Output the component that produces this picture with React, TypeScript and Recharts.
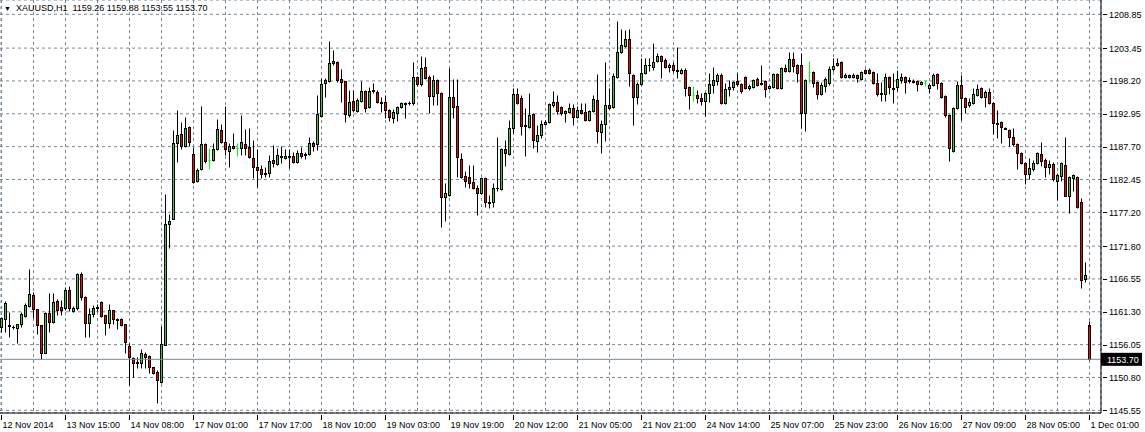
import { ComposedChart, Bar, XAxis, YAxis, CartesianGrid, ReferenceLine } from 'recharts'

// XAUUSD H1 candles, [open, high, low, close], one array per x-axis label span
const from12Nov2014 = [
  [1158.82, 1160.42, 1158.02, 1160.26], [1160.10, 1162.98, 1158.02, 1162.66], [1159.14, 1161.22, 1157.22, 1158.98], [1158.86, 1159.14, 1158.50, 1158.80],
  [1158.66, 1159.30, 1156.26, 1159.30], [1159.30, 1161.22, 1158.82, 1160.90], [1160.58, 1162.66, 1160.42, 1162.34], [1162.18, 1168.10, 1162.02, 1164.10],
  [1163.94, 1164.42, 1160.26, 1161.70], [1161.70, 1161.70, 1157.70, 1159.14], [1159.14, 1159.14, 1153.70, 1154.66], [1154.66, 1161.22, 1154.66, 1161.06],
  [1161.06, 1164.26, 1158.02, 1159.62], [1159.62, 1164.26, 1159.46, 1162.82], [1162.98, 1163.30, 1160.74, 1161.54], [1162.02, 1163.14, 1160.74, 1161.54],
]
const from13Nov1500 = [
  [1161.86, 1165.22, 1161.54, 1164.74], [1164.74, 1165.38, 1161.38, 1161.86], [1161.38, 1162.18, 1161.22, 1161.86], [1161.86, 1167.46, 1161.54, 1167.30],
  [1167.30, 1167.62, 1163.14, 1163.62], [1163.62, 1163.78, 1157.22, 1159.46], [1159.46, 1161.86, 1157.22, 1160.90], [1160.90, 1162.34, 1160.42, 1161.86],
  [1162.02, 1162.50, 1161.38, 1161.94], [1162.82, 1162.98, 1160.42, 1160.58], [1160.74, 1160.74, 1157.54, 1159.46], [1159.46, 1162.50, 1158.66, 1161.54],
  [1161.54, 1161.54, 1159.30, 1160.10], [1160.10, 1160.26, 1158.50, 1160.02], [1160.10, 1160.26, 1158.98, 1159.14], [1159.30, 1159.30, 1154.66, 1156.42],
]
const from14Nov0800 = [
  [1155.78, 1156.26, 1149.54, 1154.02], [1153.86, 1154.02, 1150.82, 1153.06], [1153.22, 1154.02, 1152.26, 1153.14], [1153.06, 1155.30, 1152.26, 1154.66],
  [1154.50, 1154.82, 1152.26, 1154.02], [1154.18, 1154.34, 1151.46, 1152.42], [1152.42, 1152.42, 1151.30, 1151.46], [1151.62, 1151.94, 1146.66, 1150.34],
  [1150.02, 1158.98, 1149.86, 1156.10], [1155.94, 1180.10, 1155.94, 1175.30], [1175.30, 1176.90, 1171.46, 1175.78], [1176.10, 1190.34, 1176.10, 1188.26],
  [1188.26, 1193.54, 1185.22, 1189.54], [1189.70, 1191.62, 1187.30, 1187.78], [1187.78, 1192.42, 1187.62, 1190.66], [1190.82, 1190.98, 1187.78, 1188.42],
]
const from17Nov0100 = [
  [1186.50, 1187.62, 1181.86, 1182.02], [1182.18, 1184.26, 1182.02, 1183.94], [1184.10, 1194.18, 1183.94, 1188.10], [1188.10, 1188.26, 1185.06, 1185.38],
  [1185.54, 1187.46, 1184.10, 1185.54], [1185.54, 1188.26, 1185.38, 1187.30], [1187.30, 1192.10, 1187.14, 1190.50], [1190.34, 1191.30, 1188.26, 1188.42],
  [1188.42, 1194.18, 1186.34, 1187.30], [1186.98, 1188.26, 1184.42, 1187.78], [1187.78, 1189.86, 1187.30, 1187.46], [1187.46, 1188.26, 1186.18, 1187.46],
  [1187.46, 1192.74, 1186.34, 1188.42], [1188.10, 1190.50, 1186.34, 1187.46], [1187.62, 1190.66, 1185.86, 1186.02], [1185.86, 1188.74, 1182.66, 1184.42],
]
const from17Nov1700 = [
  [1184.42, 1187.30, 1181.22, 1183.94], [1184.10, 1184.74, 1182.66, 1183.30], [1183.30, 1184.42, 1182.82, 1183.46], [1183.46, 1186.34, 1182.82, 1185.38],
  [1185.54, 1187.94, 1184.42, 1185.06], [1184.90, 1187.46, 1184.74, 1186.34], [1186.18, 1187.78, 1185.06, 1186.10], [1185.86, 1187.30, 1185.70, 1186.18],
  [1186.18, 1187.30, 1184.26, 1186.10], [1186.18, 1186.82, 1185.06, 1185.22], [1185.22, 1187.14, 1185.06, 1186.66], [1186.66, 1187.62, 1185.86, 1186.18],
  [1186.50, 1186.82, 1185.70, 1186.42], [1186.50, 1189.22, 1186.34, 1188.26], [1188.26, 1188.58, 1186.98, 1187.78], [1188.10, 1195.94, 1187.14, 1192.90],
]
const from18Nov1000 = [
  [1192.58, 1198.66, 1192.42, 1197.70], [1197.86, 1198.66, 1195.62, 1198.34], [1198.18, 1204.58, 1198.02, 1201.06], [1201.06, 1203.14, 1200.74, 1201.38],
  [1201.22, 1201.38, 1198.02, 1198.34], [1198.50, 1200.10, 1194.82, 1198.02], [1198.18, 1198.18, 1191.62, 1192.90], [1192.74, 1196.74, 1192.42, 1194.82],
  [1194.98, 1196.74, 1193.22, 1193.54], [1193.38, 1195.46, 1193.22, 1195.14], [1194.98, 1198.18, 1194.82, 1196.58], [1196.58, 1196.74, 1193.22, 1193.86],
  [1194.02, 1197.22, 1193.86, 1196.58], [1196.74, 1197.86, 1196.26, 1196.66], [1196.42, 1196.74, 1194.66, 1194.82], [1194.82, 1195.62, 1193.22, 1194.74],
]
const from19Nov0300 = [
  [1194.82, 1195.94, 1192.26, 1193.54], [1193.54, 1193.70, 1191.78, 1192.42], [1192.26, 1193.70, 1191.46, 1193.22], [1193.06, 1194.18, 1191.78, 1194.02],
  [1194.02, 1194.82, 1193.86, 1194.66], [1194.66, 1194.82, 1192.26, 1194.58], [1194.66, 1194.98, 1194.34, 1194.74], [1194.66, 1201.22, 1194.34, 1198.82],
  [1198.82, 1198.98, 1197.38, 1197.70], [1197.70, 1202.18, 1197.38, 1200.26], [1200.42, 1202.02, 1198.50, 1198.66], [1198.82, 1199.14, 1193.06, 1195.78],
  [1195.78, 1199.14, 1194.34, 1198.34], [1198.34, 1198.50, 1194.34, 1196.26], [1196.26, 1196.42, 1174.82, 1179.62], [1179.62, 1181.86, 1175.78, 1180.26],
]
const from19Nov1900 = [
  [1179.94, 1200.26, 1179.78, 1195.62], [1195.62, 1198.50, 1192.26, 1194.02], [1194.18, 1198.50, 1182.82, 1186.02], [1185.70, 1186.66, 1182.66, 1182.82],
  [1182.98, 1183.78, 1181.22, 1182.18], [1182.82, 1184.74, 1181.06, 1181.86], [1182.02, 1184.74, 1180.90, 1181.06], [1181.06, 1181.54, 1176.74, 1180.26],
  [1180.26, 1182.82, 1180.10, 1182.66], [1182.66, 1182.82, 1178.02, 1178.82], [1178.82, 1179.94, 1177.86, 1178.74], [1178.82, 1181.86, 1178.02, 1181.06],
  [1181.06, 1189.22, 1180.58, 1181.14], [1180.90, 1187.46, 1180.74, 1187.30], [1187.30, 1188.74, 1184.58, 1186.66], [1186.50, 1191.94, 1186.34, 1190.66],
]
const from20Nov1200 = [
  [1190.66, 1197.06, 1189.86, 1196.10], [1196.10, 1197.06, 1194.50, 1194.66], [1195.46, 1195.94, 1189.54, 1190.98], [1191.14, 1193.86, 1186.18, 1191.06],
  [1190.82, 1196.26, 1190.66, 1192.74], [1192.90, 1193.06, 1187.46, 1188.74], [1188.58, 1191.14, 1186.82, 1189.54], [1189.54, 1191.94, 1189.06, 1191.30],
  [1191.30, 1191.94, 1191.14, 1191.62], [1191.62, 1194.66, 1191.46, 1194.50], [1194.34, 1196.58, 1194.02, 1194.82], [1194.82, 1195.94, 1192.90, 1193.38],
  [1194.02, 1194.18, 1192.74, 1193.06], [1193.06, 1193.54, 1191.62, 1193.38], [1193.22, 1194.66, 1193.06, 1193.86], [1193.86, 1194.50, 1191.14, 1192.42],
]
const from21Nov0500 = [
  [1192.42, 1194.18, 1192.26, 1193.54], [1193.54, 1194.66, 1192.90, 1193.06], [1193.22, 1194.66, 1191.78, 1191.94], [1191.94, 1193.54, 1191.78, 1193.38],
  [1193.38, 1195.94, 1193.22, 1195.30], [1195.14, 1199.30, 1188.26, 1190.18], [1190.02, 1191.94, 1186.66, 1191.30], [1191.30, 1201.22, 1188.58, 1194.34],
  [1194.34, 1197.06, 1193.70, 1193.86], [1194.02, 1199.46, 1193.86, 1198.98], [1198.82, 1207.78, 1198.66, 1202.82], [1202.82, 1206.50, 1202.66, 1203.94],
  [1203.78, 1206.34, 1203.62, 1204.90], [1204.90, 1206.50, 1197.38, 1199.46], [1199.14, 1199.30, 1191.14, 1195.62], [1195.62, 1198.02, 1194.50, 1197.70],
]
const from21Nov2100 = [
  [1197.70, 1201.86, 1197.54, 1199.46], [1199.46, 1201.86, 1199.30, 1200.74], [1200.74, 1201.86, 1199.78, 1200.82], [1200.42, 1204.26, 1199.94, 1201.22],
  [1201.38, 1202.66, 1201.22, 1202.18], [1202.18, 1202.34, 1198.66, 1201.38], [1201.54, 1201.86, 1200.26, 1200.42], [1200.42, 1201.06, 1199.62, 1200.74],
  [1200.74, 1201.22, 1199.62, 1199.94], [1199.94, 1203.62, 1198.66, 1199.86], [1199.46, 1200.26, 1199.30, 1199.94], [1199.94, 1200.26, 1195.78, 1197.06],
  [1197.22, 1197.38, 1193.70, 1195.94], [1195.94, 1197.38, 1194.98, 1195.94], [1195.94, 1196.74, 1194.66, 1195.46], [1195.46, 1196.26, 1194.34, 1194.98],
]
const from24Nov1400 = [
  [1194.98, 1196.42, 1192.58, 1196.26], [1196.26, 1199.46, 1194.82, 1197.70], [1197.54, 1200.42, 1196.26, 1198.34], [1198.18, 1199.46, 1197.54, 1199.14],
  [1199.14, 1199.46, 1194.50, 1194.66], [1194.66, 1197.86, 1194.50, 1196.90], [1196.90, 1198.34, 1195.78, 1197.22], [1197.22, 1198.18, 1196.74, 1198.02],
  [1198.18, 1199.46, 1197.38, 1197.70], [1197.70, 1197.86, 1196.26, 1196.58], [1198.82, 1198.98, 1196.90, 1197.06], [1197.06, 1197.70, 1196.74, 1197.38],
  [1197.22, 1198.50, 1197.06, 1198.34], [1198.50, 1198.82, 1197.38, 1197.54], [1197.86, 1200.74, 1197.54, 1197.78], [1198.18, 1198.34, 1195.62, 1196.90],
]
const from25Nov0700 = [
  [1197.06, 1197.54, 1196.90, 1197.38], [1197.22, 1199.46, 1197.06, 1199.30], [1199.30, 1199.46, 1196.90, 1197.06], [1197.06, 1200.42, 1196.90, 1200.26],
  [1200.26, 1200.90, 1199.62, 1199.78], [1199.78, 1202.82, 1199.62, 1201.70], [1201.70, 1202.82, 1199.62, 1200.58], [1200.74, 1200.90, 1198.02, 1199.46],
  [1200.74, 1202.66, 1190.66, 1193.06], [1193.06, 1198.50, 1190.18, 1198.34], [1199.62, 1201.38, 1197.86, 1199.62], [1199.62, 1199.78, 1197.22, 1197.86],
  [1198.02, 1198.18, 1195.30, 1196.10], [1196.10, 1198.02, 1195.94, 1197.54], [1197.38, 1198.82, 1196.42, 1198.50], [1197.86, 1200.58, 1197.54, 1200.10],
]
const from25Nov2300 = [
  [1200.10, 1201.86, 1199.78, 1200.58], [1201.06, 1201.86, 1200.58, 1200.74], [1201.22, 1201.38, 1198.66, 1198.82], [1198.82, 1199.46, 1198.66, 1199.14],
  [1199.14, 1199.30, 1198.66, 1198.82], [1198.82, 1199.46, 1198.66, 1199.14], [1199.14, 1199.30, 1198.02, 1198.66], [1198.50, 1199.78, 1198.34, 1199.62],
  [1199.94, 1200.10, 1199.30, 1199.46], [1199.94, 1200.26, 1199.30, 1199.46], [1199.62, 1199.78, 1197.70, 1197.86], [1197.86, 1199.46, 1195.78, 1196.10],
  [1196.26, 1198.02, 1194.98, 1196.18], [1196.10, 1199.46, 1194.98, 1198.82], [1198.82, 1198.98, 1196.10, 1197.22], [1197.06, 1199.46, 1194.66, 1196.98],
]
const from26Nov1600 = [
  [1197.22, 1199.94, 1196.58, 1198.50], [1198.34, 1199.46, 1197.86, 1198.82], [1198.82, 1198.98, 1196.26, 1198.02], [1198.34, 1198.82, 1197.86, 1198.26],
  [1198.18, 1198.50, 1197.86, 1198.10], [1198.18, 1198.34, 1196.58, 1197.70], [1197.70, 1198.18, 1197.54, 1198.02], [1197.86, 1198.34, 1197.38, 1197.86],
  [1197.06, 1197.86, 1196.26, 1197.54], [1197.54, 1199.46, 1197.38, 1199.14], [1199.30, 1199.46, 1196.90, 1197.86], [1197.86, 1198.02, 1195.46, 1195.62],
  [1195.78, 1195.94, 1192.42, 1192.74], [1192.74, 1192.90, 1185.38, 1187.46], [1186.98, 1194.02, 1186.82, 1193.86], [1193.86, 1198.18, 1193.70, 1197.54],
]
const from27Nov0900 = [
  [1197.54, 1199.14, 1191.94, 1195.46], [1195.46, 1195.62, 1193.06, 1194.02], [1194.34, 1195.46, 1194.02, 1194.82], [1194.66, 1197.06, 1194.50, 1196.10],
  [1195.94, 1197.70, 1195.78, 1196.90], [1197.06, 1197.22, 1195.46, 1195.62], [1195.62, 1196.74, 1194.02, 1196.42], [1196.42, 1197.06, 1194.50, 1194.66],
  [1194.66, 1194.82, 1189.70, 1191.46], [1191.46, 1193.54, 1189.06, 1191.38], [1191.62, 1191.78, 1188.26, 1190.82], [1190.66, 1190.82, 1190.50, 1190.58],
  [1190.34, 1190.50, 1187.78, 1189.22], [1189.22, 1190.66, 1187.78, 1188.10], [1188.10, 1188.26, 1184.10, 1186.66], [1186.66, 1186.82, 1184.90, 1185.06],
]
const from28Nov0500 = [
  [1185.06, 1185.22, 1181.70, 1183.30], [1183.30, 1185.86, 1182.50, 1184.26], [1184.10, 1185.54, 1183.78, 1185.06], [1185.06, 1186.82, 1184.90, 1186.66],
  [1186.50, 1188.42, 1184.58, 1185.38], [1185.54, 1185.86, 1182.82, 1184.42], [1184.42, 1185.54, 1183.30, 1184.90], [1184.90, 1185.22, 1182.18, 1182.50],
  [1182.18, 1183.46, 1179.14, 1183.14], [1182.98, 1185.22, 1182.18, 1185.06], [1184.74, 1189.22, 1179.78, 1179.78], [1179.78, 1182.98, 1177.06, 1182.82],
  [1182.66, 1183.30, 1180.58, 1183.14], [1182.82, 1182.98, 1177.86, 1178.02], [1178.82, 1179.46, 1165.06, 1166.34], [1166.50, 1169.22, 1166.02, 1167.14],
]
const from1Dec0100 = [
  [1159.26, 1159.88, 1153.55, 1153.70],
]

const xLabels = [
  '12 Nov 2014', '13 Nov 15:00', '14 Nov 08:00', '17 Nov 01:00', '17 Nov 17:00', '18 Nov 10:00',
  '19 Nov 03:00', '19 Nov 19:00', '20 Nov 12:00', '21 Nov 05:00', '21 Nov 21:00', '24 Nov 14:00',
  '25 Nov 07:00', '25 Nov 23:00', '26 Nov 16:00', '27 Nov 09:00', '28 Nov 05:00', '1 Dec 01:00',
]
// bar index of each label, and of every vertical grid line
const labelBars = [0, 16, 32, 48, 64, 80, 96, 112, 128, 144, 160, 176, 192, 208, 224, 240, 256, 272]
const gridBars = [
  0, 8, 16, 24, 32, 40, 48, 56, 64, 72, 80, 88, 96, 104, 112, 120, 128, 136, 144,
  152, 160, 168, 176, 184, 192, 200, 208, 216, 224, 232, 240, 248, 256, 264, 272,
]
const priceTicks = [
  1208.85, 1203.45, 1198.20, 1192.95, 1187.70, 1182.45, 1177.20,
  1171.80, 1166.55, 1161.30, 1156.05, 1150.80, 1145.55,
]
const lastPrice = 1153.70
const header = 'XAUUSD,H1  1159.26 1159.88 1153.55 1153.70'

const segments = [
  from12Nov2014, from13Nov1500, from14Nov0800, from17Nov0100, from17Nov1700, from18Nov1000,
  from19Nov0300, from19Nov1900, from20Nov1200, from21Nov0500, from21Nov2100, from24Nov1400,
  from25Nov0700, from25Nov2300, from26Nov1600, from27Nov0900, from28Nov0500, from1Dec0100,
]

const data = segments.flat().map(([o, h, l, c], i) => ({ i, o, h, l, c, range: [l, h] }))

const FONT = '"Liberation Sans", Arial, sans-serif'
const BULL = '#32cd32'
const BEAR = '#ff0000'
const DOJI = '#00ff00'
const GRID = '#778899'

function Candle(props: any) {
  const { x, y, width, height, payload } = props
  if (x == null || y == null) return null
  const { o, h, l, c } = payload
  const top = Math.min(y, y + height)
  const bottom = Math.max(y, y + height)
  const py = (p: number) => (h === l ? top : top + ((h - p) / (h - l)) * (bottom - top))
  const snap = (v: number) => Math.round(v) + 0.5
  const cx = Math.floor(x + width / 2) + 0.5

  if (o === c) {
    return (
      <g>
        <line x1={cx} x2={cx} y1={snap(py(h))} y2={snap(py(l))} stroke={DOJI} strokeWidth={1} />
        <line x1={cx - 1} x2={cx + 1} y1={snap(py(o))} y2={snap(py(o))} stroke={DOJI} strokeWidth={1} />
      </g>
    )
  }
  const bt = snap(py(Math.max(o, c)))
  const bb = snap(py(Math.min(o, c)))
  return (
    <g>
      <line x1={cx} x2={cx} y1={snap(py(h))} y2={snap(py(l))} stroke="#000" strokeWidth={1} />
      {bb - bt < 1 ? (
        <line x1={cx - 1.5} x2={cx + 1.5} y1={bt} y2={bt} stroke="#000" strokeWidth={1} />
      ) : (
        <rect x={cx - 1} y={bt} width={2} height={bb - bt} fill={c > o ? BULL : BEAR} stroke="#000" strokeWidth={1} />
      )}
    </g>
  )
}

const XTick = ({ x, y, payload }: any) => {
  const idx = labelBars.indexOf(payload.value)
  if (idx < 0) return null
  const tx = Math.floor(x) + 0.5
  return (
    <g>
      <line x1={tx} x2={tx} y1={y} y2={y + 5} stroke="#000" />
      <text x={tx + 1} y={y + 13} fontSize={9} fontFamily={FONT} fill="#000">
        {xLabels[idx]}
      </text>
    </g>
  )
}

const YTick = ({ x, y, payload }: any) => (
  <g>
    <line x1={x} x2={x + 4} y1={Math.round(y) + 0.5} y2={Math.round(y) + 0.5} stroke="#000" />
    <text x={x + 6} y={y + 3.5} fontSize={9} fontFamily={FONT} fill="#000">
      {payload.value.toFixed(2)}
    </text>
  </g>
)

const PriceTag = ({ viewBox }: any) => {
  const { x, y, width } = viewBox
  const left = x + width
  return (
    <g>
      <rect x={left} y={y - 6.5} width={41} height={13} fill="#000" />
      <text x={left + 6} y={y + 3.5} fontSize={9} fontFamily={FONT} fill="#fff">
        {lastPrice.toFixed(2)}
      </text>
    </g>
  )
}

export default function App() {
  return (
    <div style={{ position: 'absolute', left: 0, top: 0, width: 1145, height: 432, background: '#fff' }}>
      <ComposedChart
        width={1145}
        height={432}
        data={data}
        margin={{ top: 0, right: 0, bottom: 0, left: 0 }}
      >
        <CartesianGrid stroke={GRID} strokeDasharray="3 3" />
        <XAxis
          dataKey="i"
          type="number"
          domain={[-0.375, 274.875]}
          allowDataOverflow
          ticks={gridBars}
          interval={0}
          tick={<XTick />}
          tickLine={false}
          tickSize={0}
          height={19}
          axisLine={{ stroke: '#000' }}
        />
        <YAxis
          orientation="right"
          type="number"
          domain={[1145.12, 1211.14]}
          allowDataOverflow
          ticks={priceTicks}
          interval={0}
          tick={<YTick />}
          tickLine={false}
          tickSize={0}
          width={44}
          axisLine={{ stroke: '#000' }}
        />
        <ReferenceLine y={lastPrice} stroke={GRID} strokeWidth={1} label={<PriceTag />} />
        <Bar dataKey="range" shape={<Candle />} isAnimationActive={false} />
      </ComposedChart>
      <div
        style={{
          position: 'absolute', left: 4, top: 3, fontFamily: FONT, fontSize: 9,
          color: '#000', whiteSpace: 'pre', display: 'flex', alignItems: 'center',
        }}
      >
        <span style={{ fontSize: 7, marginRight: 5 }}>▼</span>
        {header}
      </div>
    </div>
  )
}
